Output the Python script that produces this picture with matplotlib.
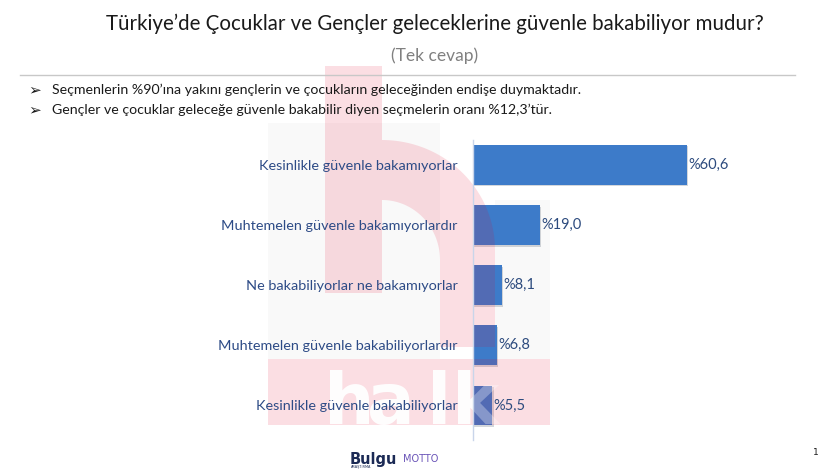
import matplotlib
matplotlib.use('Agg')
import matplotlib.pyplot as plt
import matplotlib.patheffects as pe
from matplotlib.patches import Rectangle, Polygon
from matplotlib.transforms import Bbox, TransformedBbox
import numpy as np

categories = ['Kesinlikle güvenle bakamıyorlar',
              'Muhtemelen güvenle bakamıyorlardır',
              'Ne bakabiliyorlar ne bakamıyorlar',
              'Muhtemelen güvenle bakabiliyorlardır',
              'Kesinlikle güvenle bakabiliyorlar']
values = [60.6, 19.0, 8.1, 6.8, 5.5]
value_labels = ['%60,6', '%19,0', '%8,1', '%6,8', '%5,5']

title = 'Türkiye’de Çocuklar ve Gençler geleceklerine güvenle bakabiliyor mudur?'
subtitle = '(Tek cevap)'
bullets = ['Seçmenlerin %90’ına yakını gençlerin ve çocukların geleceğinden endişe duymaktadır.',
           'Gençler ve çocuklar geleceğe güvenle bakabilir diyen seçmelerin oranı %12,3’tür.']

W, H = 820, 469
fig = plt.figure(figsize=(8.2, 4.69), dpi=100)


def fx(x):
    return x / W


def fy(y):
    return 1 - y / H


def rect(x0, y0, x1, y1):
    return Rectangle((fx(x0), fy(y1)), fx(x1) - fx(x0), fy(y0) - fy(y1))


# light grey backdrop of the watermark
for r in [rect(268, 123, 440, 359), rect(495, 200, 550, 359)]:
    r.set(transform=fig.transFigure, color='#f9f9f9', lw=0, zorder=-2)
    fig.add_artist(r)

# bar chart
ax = fig.add_axes([fx(473), fy(440), fx(779) - fx(473), fy(140) - fy(440)])
ax.set_facecolor('none')
pos = np.arange(len(values))[::-1]
bars = ax.barh(pos, values, height=0.665, color='#3d7bc9', zorder=2)
for b in bars:
    b.set_path_effects([pe.SimplePatchShadow(offset=(1, -1), alpha=0.18), pe.Normal()])
ax.set_xlim(0, 60.6 * (779 - 473) / 214)
ax.set_ylim(-0.574, 4.416)
ax.set_yticks(pos)
ax.set_yticklabels(categories, fontsize=10.4, color='#2d4b86', family='Lato')
ax.tick_params(axis='y', length=0, pad=11)
ax.set_xticks([])
for s in ['top', 'right', 'bottom']:
    ax.spines[s].set_visible(False)
ax.spines['left'].set_color('#c9d5ea')
ax.spines['left'].set_linewidth(1)
ax.spines['left'].set_zorder(20)
ax.yaxis.set_zorder(20)
for p, v, lab in zip(pos, values, value_labels):
    ax.annotate(lab, (v, p), xytext=(1, 0), textcoords='offset points', zorder=20,
                va='center', ha='left', fontsize=10.5, color='#2d4b7e', family='Lato')

# pink "h" watermark over the bars, under the labels
pink = dict(transform=fig.transFigure, color='#e60028', alpha=0.13, lw=0, zorder=5,
            clip_on=False)
t = np.linspace(np.pi / 2, 0, 40)
outer = [(382 + 113 * np.cos(a), 250 - 110 * np.sin(a)) for a in t]
inner = [(382 + 58 * np.cos(a), 260 - 60 * np.sin(a)) for a in t[::-1]]
pts = outer + [(495, 347), (440, 347)] + inner
shapes = [rect(325, 66, 382, 293), rect(268, 359, 550, 425),
          Polygon([(fx(x), fy(y)) for x, y in pts], closed=True)]
for s in shapes:
    s.set(**pink)
    ax.add_artist(s)

left_clip = TransformedBbox(Bbox([[0, 0], [fx(473), 1]]), fig.transFigure)
right_clip = TransformedBbox(Bbox([[fx(473), 0], [1, 1]]), fig.transFigure)
for ch, x in zip('halk', [324, 367, 427, 452]):
    for box, al in [(left_clip, 0.95), (right_clip, 0.3)]:
        tx = ax.text(fx(x), fy(424), ch, transform=fig.transFigure, fontsize=51,
                     fontweight='bold', color='white', family='DejaVu Sans',
                     ha='left', va='baseline', zorder=6, alpha=al)
        tx.set_clip_box(box)
        tx.set_clip_on(True)

# header texts
fig.text(fx(435), fy(24), title, ha='center', va='center', fontsize=14.8,
         color='#1a1a1a', family='Lato')
fig.text(fx(435), fy(56), subtitle, ha='center', va='center', fontsize=12.5,
         color='#808080', family='Lato')
fig.add_artist(plt.Line2D([fx(20), fx(795)], [fy(75), fy(75)], transform=fig.transFigure,
                          color='#c8c8c8', lw=1))
for i, b in enumerate(bullets):
    y = fy(90 + 20 * i)
    fig.text(fx(28), y, '➢', ha='left', va='center', fontsize=11, color='#1a1a1a',
             family='DejaVu Sans')
    fig.text(fx(52), y, b, ha='left', va='center', fontsize=10.2, color='#1a1a1a',
             family='Lato')

# footer
fig.text(fx(350), fy(459), 'Bulgu', ha='left', va='center', fontsize=10.5,
         fontweight='bold', color='#1b2a55', family='DejaVu Sans')
fig.text(fx(351), fy(467), 'ARAŞTIRMA', ha='left', va='center', fontsize=2.5,
         color='#1b2a55', family='DejaVu Sans')
fig.text(fx(403), fy(459), 'MOTTO', ha='left', va='center', fontsize=7,
         color='#6b55b8', family='DejaVu Sans')
fig.text(fx(816), fy(452), '1', ha='center', va='center', fontsize=6.5, color='#1a1a1a')

fig.savefig('out.png', dpi=100)
